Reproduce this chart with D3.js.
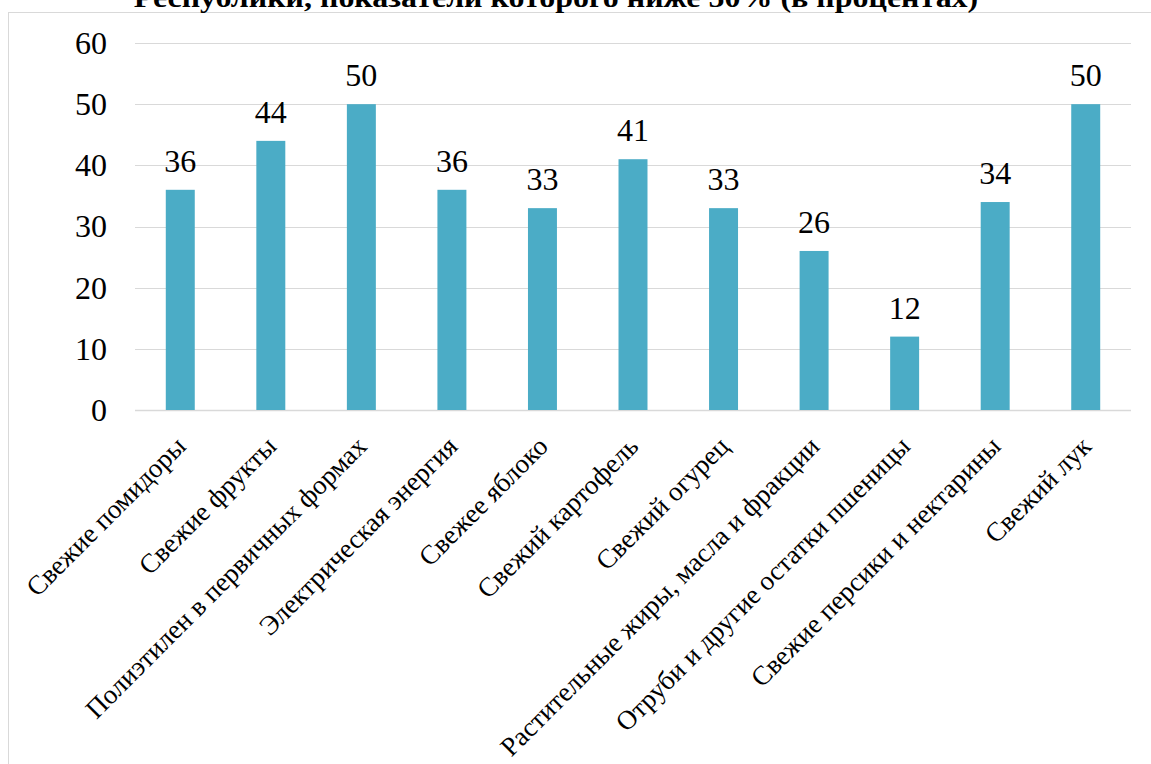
<!DOCTYPE html>
<html><head><meta charset="utf-8"><script src="https://cdn.jsdelivr.net/npm/d3@7"></script></head>
<body style="margin:0">
<script>
const w = 1151;
const h = 764;
const fam = "Liberation Serif, Times New Roman, serif";

// data
const categories = [
  "Свежие помидоры",
  "Свежие фрукты",
  "Полиэтилен в первичных формах",
  "Электрическая энергия",
  "Свежее яблоко",
  "Свежий картофель",
  "Свежий огурец",
  "Растительные жиры, масла и фракции",
  "Отруби и другие остатки пшеницы",
  "Свежие персики и нектарины",
  "Свежий лук"
];
const values = [36, 44, 50, 36, 33, 41, 33, 26, 12, 34, 50];
const yTicks = [0, 10, 20, 30, 40, 50, 60];
const titleText = "Республики, показатели которого ниже 50% (в процентах)";

const plot = { left: 135, right: 1131, top: 43, bottom: 410 };

let svg = d3.select("body")
  .append("svg")
  .attr("width", w)
  .attr("height", h)
  .attr("font-family", fam);

// chart frame
svg.append("rect")
  .attr("x", 8.5)
  .attr("y", 12.5)
  .attr("width", w - 8)
  .attr("height", h - 12)
  .attr("fill", "none")
  .attr("stroke", "#d9d9d9")
  .attr("stroke-width", 1);

// title (cut off at the top in the original), squeezed to its width
let title = svg.append("text")
  .attr("text-anchor", "middle")
  .attr("font-size", 27)
  .attr("font-weight", "bold")
  .attr("font-family", fam)
  .text(titleText);
let tw = title.node().getComputedTextLength();
title.attr("transform", "translate(556,7) scale(" + (845 / tw) + ",1)");

let xScale = d3.scaleBand()
  .domain(categories)
  .range([plot.left, plot.right])
  .paddingInner(0.68)
  .paddingOuter(0.34);

let yScale = d3.scaleLinear()
  .domain([0, 60])
  .range([plot.bottom, plot.top]);

// gridlines
svg.append("g")
  .selectAll("line")
  .data(yTicks)
  .enter()
  .append("line")
  .attr("x1", plot.left)
  .attr("x2", plot.right)
  .attr("y1", d => Math.round(yScale(d)) + 0.5)
  .attr("y2", d => Math.round(yScale(d)) + 0.5)
  .attr("stroke", "#d9d9d9")
  .attr("stroke-width", d => d === 0 ? 1.5 : 1.2);

// y axis labels
svg.append("g")
  .selectAll("text")
  .data(yTicks)
  .enter()
  .append("text")
  .attr("x", plot.left - 28)
  .attr("y", d => yScale(d))
  .attr("dy", "0.34em")
  .attr("text-anchor", "end")
  .attr("font-size", 32)
  .attr("font-family", fam)
  .text(d => d);

// bars
svg.selectAll("rect.bar")
  .data(values)
  .enter()
  .append("rect")
  .attr("class", "bar")
  .attr("x", (d, i) => xScale(categories[i]))
  .attr("y", d => yScale(d))
  .attr("width", xScale.bandwidth())
  .attr("height", d => yScale(0) - yScale(d))
  .attr("fill", "#4bacc6");

// value labels
svg.selectAll("text.val")
  .data(values)
  .enter()
  .append("text")
  .attr("class", "val")
  .attr("x", (d, i) => xScale(categories[i]) + xScale.bandwidth() / 2)
  .attr("y", d => yScale(d) - 18)
  .attr("text-anchor", "middle")
  .attr("font-size", 32)
  .attr("font-family", fam)
  .text(d => d);

// category labels, rotated
svg.selectAll("text.cat")
  .data(categories)
  .enter()
  .append("text")
  .attr("class", "cat")
  .attr("text-anchor", "end")
  .attr("font-size", 27)
  .attr("font-family", fam)
  .attr("transform", d => {
    let cx = xScale(d) + xScale.bandwidth() / 2 + 7;
    return "translate(" + cx + "," + (plot.bottom + 38) + ") rotate(-45)";
  })
  .text(d => d);
</script>
</body></html>
